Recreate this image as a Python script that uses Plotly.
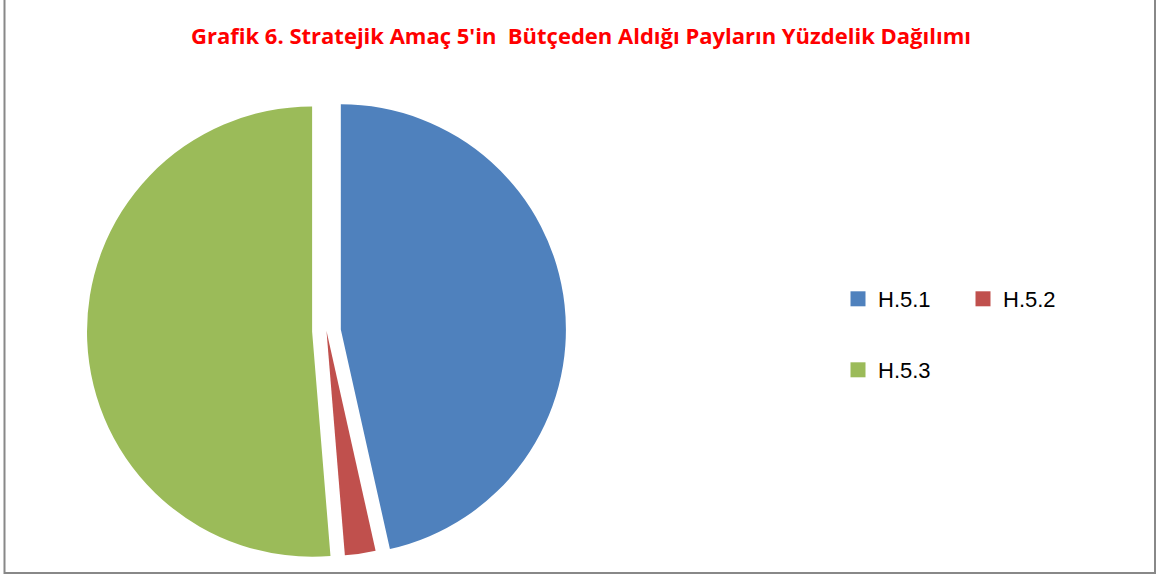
import plotly.graph_objects as go

labels = ["H.5.1", "H.5.2", "H.5.3"]
values = [46.5, 2.2, 51.3]
colors = ["#4F81BD", "#C0504D", "#9BBB59"]
pulls = [0.064, 0.0, 0.064]
title_text = "Grafik 6. Stratejik Amaç 5'in  Bütçeden Aldığı Payların Yüzdelik Dağılımı"

W, H = 1162, 578

fig = go.Figure()
fig.add_trace(go.Pie(
    labels=labels, values=values, sort=False, direction="clockwise", rotation=0,
    marker=dict(colors=colors, line=dict(width=0)), pull=pulls,
    textinfo="none", hoverinfo="label+percent", showlegend=False,
    domain=dict(x=[87 / W, 566 / W], y=[1 - 570.5 / H, 1 - 91.5 / H]),
))

# legend entries (two rows like the original)
for i, (lab, col) in enumerate(zip(labels, colors)):
    fig.add_trace(go.Scatter(
        x=[None], y=[None], mode="markers", name=lab,
        marker=dict(symbol="square", size=15, color=col),
        legend="legend" if i < 2 else "legend2",
    ))

legend_common = dict(
    orientation="h", xanchor="left", yanchor="middle",
    font=dict(family="Liberation Sans, Arial, sans-serif", size=22, color="#000000"),
    bgcolor="rgba(0,0,0,0)", itemwidth=30, entrywidth=80, entrywidthmode="pixels",
)

fig.update_layout(
    width=W, height=H,
    margin=dict(l=0, r=0, t=0, b=0),
    paper_bgcolor="white", plot_bgcolor="white",
    title=dict(text=title_text, x=0.5, xanchor="center", y=1 - 36 / H, yanchor="middle",
               font=dict(family="Open Sans, sans-serif", size=22, color="#FF0000", weight="bold")),
    xaxis=dict(visible=False), yaxis=dict(visible=False),
    legend=dict(x=(858 - 20) / W, y=1 - 299 / H, **legend_common),
    legend2=dict(x=(858 - 20) / W, y=1 - 370 / H, **legend_common),
    shapes=[dict(type="rect", xref="paper", yref="paper",
                 x0=4.5 / W, x1=1155 / W, y0=1 - 573 / H, y1=1.05,
                 line=dict(color="#888888", width=2), fillcolor="rgba(0,0,0,0)", layer="below")],
)

fig.write_html(
    "out.html",
    config={"displayModeBar": False},
    post_script="document.body.style.margin='0';document.body.style.overflow='hidden';",
)
